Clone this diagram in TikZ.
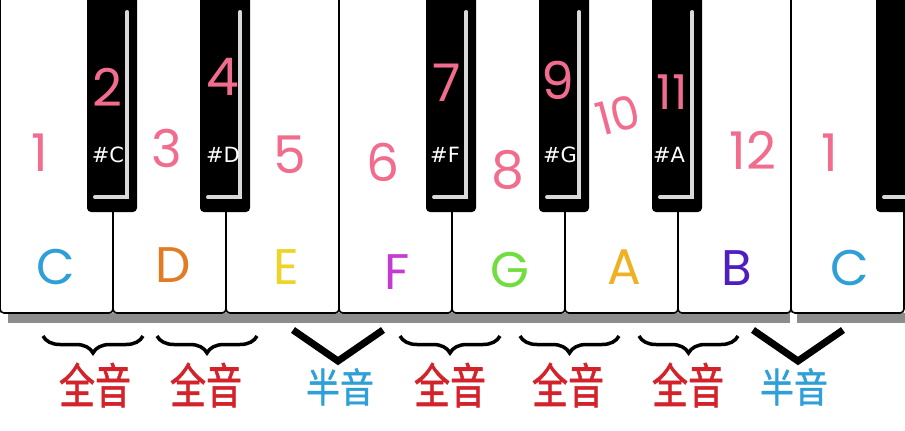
\documentclass[tikz,border=0pt]{standalone}
\usepackage{fontspec}
\setmainfont{Poppins}
\newfontfamily\cjk[FakeBold=1.2]{Noto Sans CJK SC}
\newfontfamily\keyfont{DejaVu Sans}
\usetikzlibrary{calc,decorations.pathreplacing}
\definecolor{pinknum}{HTML}{F26C8E}
\definecolor{stepred}{HTML}{D3222A}
\definecolor{stepblue}{HTML}{2F9FD8}
\tikzstyle{whitekey}=[draw,fill=white,line width=1.6pt,rounded corners=4pt,minimum width=113pt,minimum height=318pt,inner sep=0pt]
\tikzstyle{blackkey}=[fill=black,rounded corners=4pt,minimum width=50pt,minimum height=218pt,inner sep=0pt]
\tikzstyle{shine}=[draw=black!15,line width=3.5pt,line cap=round]
\tikzstyle{sharp}=[text=white,inner sep=0pt,font=\keyfont\fontsize{21}{24}\selectfont]
\tikzstyle{num}=[text=pinknum,inner sep=0pt,font=\fontsize{52}{56}\selectfont]
\tikzstyle{note}=[font=\fontsize{50}{54}\selectfont]
\tikzstyle{whole}=[text=stepred,xscale=0.75,font=\cjk\fontsize{48}{52}\selectfont]
\tikzstyle{half}=[text=stepblue,xscale=0.85,font=\cjk\fontsize{40}{44}\selectfont]
\tikzstyle{bracket}=[decorate,decoration={brace,amplitude=17pt,mirror}]
\tikzstyle{vmark}=[draw,line width=7pt]

\begin{document}
\begin{tikzpicture}[x=1pt,y=-1pt]
\clip (0,0) rectangle (905,431);
\fill[white] (0,0) rectangle (905,431);
\fill[black!45] (8,313) rectangle (790,323);
\fill[black!45] (797,313) rectangle (905,323);
% white keys
\node[whitekey] (KeyC1) at (56.5,154) {};
\node[whitekey] (KeyD) at (169.5,154) {};
\node[whitekey] (KeyE) at (282.5,154) {};
\node[whitekey] (KeyF) at (395.5,154) {};
\node[whitekey] (KeyG) at (508.5,154) {};
\node[whitekey] (KeyA) at (621.5,154) {};
\node[whitekey] (KeyB) at (734.5,154) {};
\node[whitekey] (KeyC2) at (847.5,154) {};
% black keys
\node[blackkey] (SharpC) at (112,103) {};
\node[blackkey] (SharpD) at (225,103) {};
\node[blackkey] (SharpF) at (451,103) {};
\node[blackkey] (SharpG) at (564,103) {};
\node[blackkey] (SharpA) at (677,103) {};
\node[blackkey] (SharpC2) at (901,103) {};
\foreach \k in {SharpC,SharpD,SharpF,SharpG,SharpA,SharpC2}
  \draw[shine] ($(\k.north east)+(-10,18)$) |- ($(\k.south west)+(8,-15)$);
\node[sharp] (LblC) at (108,155) {\#C};
\node[sharp] (LblD) at (223,155) {\#D};
\node[sharp] (LblF) at (445,155) {\#F};
\node[sharp] (LblG) at (560,155) {\#G};
\node[sharp] (LblA) at (669,155) {\#A};
% semitone numbers
\node[num] (Num1) at (40,153) {1};
\node[num] (Num2) at (107,87) {2};
\node[num] (Num3) at (167,148) {3};
\node[num] (Num4) at (223,77) {4};
\node[num] (Num5) at (290,155) {5};
\node[num] (Num6) at (383,162) {6};
\node[num] (Num7) at (447,83) {7};
\node[num] (Num8) at (508,170) {8};
\node[num] (Num9) at (558,80) {9};
\node[num,rotate=15,font=\fontsize{46}{50}\selectfont] (Num10) at (618,115) {10};
\node[num,font=\fontsize{48}{52}\selectfont] (Num11) at (672,92) {11};
\node[num] (Num12) at (753,150) {12};
\node[num] (Num13) at (830,153) {1};
% note names
\node[note,text=stepblue] (NoteC1) at (56,267) {C};
\node[note,text={rgb,255:red,226;green,124;blue,36}] (NoteD) at (173,265) {D};
\node[note,text={rgb,255:red,238;green,212;blue,40}] (NoteE) at (286,267) {E};
\node[note,text={rgb,255:red,196;green,58;blue,210}] (NoteF) at (397,272) {F};
\node[note,text={rgb,255:red,112;green,222;blue,62}] (NoteG) at (510,270) {G};
\node[note,text={rgb,255:red,240;green,176;blue,36}] (NoteA) at (624,267) {A};
\node[note,text={rgb,255:red,78;green,30;blue,190}] (NoteB) at (737,268) {B};
\node[note,text=stepblue] (NoteC2) at (850,268) {C};
% steps
\coordinate (Br1a) at (43,336);
\coordinate (Br1b) at (143,336);
\coordinate (Br2a) at (157,336);
\coordinate (Br2b) at (257,336);
\coordinate (Br3a) at (400,336);
\coordinate (Br3b) at (500,336);
\coordinate (Br4a) at (520,336);
\coordinate (Br4b) at (619,336);
\coordinate (Br5a) at (639,336);
\coordinate (Br5b) at (738,336);
\foreach \i in {1,...,5}
  \draw[bracket,line width=3.5pt] (Br\i a) -- (Br\i b);
\coordinate (V1a) at (293,330);
\coordinate (V1t) at (338,361);
\coordinate (V1b) at (383,330);
\coordinate (V2a) at (753,330);
\coordinate (V2t) at (798,361);
\coordinate (V2b) at (843,330);
\draw[vmark] (V1a) -- (V1t) -- (V1b);
\draw[vmark] (V2a) -- (V2t) -- (V2b);
\node[whole] (Whole1) at (95,385) {全音};
\node[whole] (Whole2) at (206,385) {全音};
\node[half] (Half1) at (340,387) {半音};
\node[whole] (Whole3) at (450,385) {全音};
\node[whole] (Whole4) at (568,385) {全音};
\node[whole] (Whole5) at (688,385) {全音};
\node[half] (Half2) at (794,387) {半音};
\end{tikzpicture}
\end{document}
